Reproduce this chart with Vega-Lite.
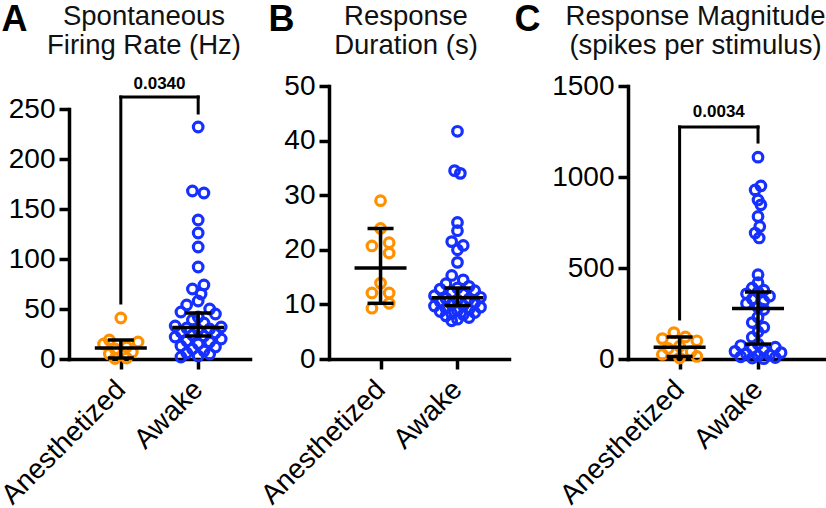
{
  "$schema": "https://vega.github.io/schema/vega-lite/v6.json",
  "background": "white",
  "padding": {"left": -4, "top": 1, "right": 0, "bottom": 0},
  "autosize": {"type": "pad"},
  "spacing": 79,
  "bounds": "flush",
  "datasets": {
    "pts": [
      {"panel": "A", "group": "Anesthetized", "value": 41, "slot": 0},
      {"panel": "A", "group": "Anesthetized", "value": 19, "slot": -2},
      {"panel": "A", "group": "Anesthetized", "value": 17, "slot": 3},
      {"panel": "A", "group": "Anesthetized", "value": 15, "slot": -3},
      {"panel": "A", "group": "Anesthetized", "value": 12, "slot": 1},
      {"panel": "A", "group": "Anesthetized", "value": 10, "slot": -1},
      {"panel": "A", "group": "Anesthetized", "value": 7, "slot": 2},
      {"panel": "A", "group": "Anesthetized", "value": 5, "slot": -2},
      {"panel": "A", "group": "Anesthetized", "value": 1, "slot": 1},
      {"panel": "A", "group": "Anesthetized", "value": 0.5, "slot": -1},
      {"panel": "A", "group": "Awake", "value": 232, "slot": 0},
      {"panel": "A", "group": "Awake", "value": 168, "slot": -1},
      {"panel": "A", "group": "Awake", "value": 166, "slot": 1},
      {"panel": "A", "group": "Awake", "value": 139, "slot": 0},
      {"panel": "A", "group": "Awake", "value": 126, "slot": 0},
      {"panel": "A", "group": "Awake", "value": 112, "slot": 0},
      {"panel": "A", "group": "Awake", "value": 92, "slot": 0},
      {"panel": "A", "group": "Awake", "value": 74, "slot": 1},
      {"panel": "A", "group": "Awake", "value": 70, "slot": -1},
      {"panel": "A", "group": "Awake", "value": 65, "slot": 0.5},
      {"panel": "A", "group": "Awake", "value": 58, "slot": 0},
      {"panel": "A", "group": "Awake", "value": 54, "slot": -2},
      {"panel": "A", "group": "Awake", "value": 50, "slot": 2},
      {"panel": "A", "group": "Awake", "value": 47, "slot": -3},
      {"panel": "A", "group": "Awake", "value": 45, "slot": 3},
      {"panel": "A", "group": "Awake", "value": 42, "slot": 0},
      {"panel": "A", "group": "Awake", "value": 39, "slot": -1},
      {"panel": "A", "group": "Awake", "value": 36, "slot": 1},
      {"panel": "A", "group": "Awake", "value": 33, "slot": -4},
      {"panel": "A", "group": "Awake", "value": 32, "slot": 4},
      {"panel": "A", "group": "Awake", "value": 31, "slot": -2},
      {"panel": "A", "group": "Awake", "value": 30, "slot": 2},
      {"panel": "A", "group": "Awake", "value": 29, "slot": 0},
      {"panel": "A", "group": "Awake", "value": 27, "slot": -3},
      {"panel": "A", "group": "Awake", "value": 26, "slot": 3},
      {"panel": "A", "group": "Awake", "value": 24, "slot": -1},
      {"panel": "A", "group": "Awake", "value": 23, "slot": 1},
      {"panel": "A", "group": "Awake", "value": 22, "slot": -4},
      {"panel": "A", "group": "Awake", "value": 20, "slot": 4},
      {"panel": "A", "group": "Awake", "value": 18, "slot": -2},
      {"panel": "A", "group": "Awake", "value": 17, "slot": 2},
      {"panel": "A", "group": "Awake", "value": 15, "slot": 0},
      {"panel": "A", "group": "Awake", "value": 13, "slot": -3},
      {"panel": "A", "group": "Awake", "value": 12, "slot": 3},
      {"panel": "A", "group": "Awake", "value": 10, "slot": -1},
      {"panel": "A", "group": "Awake", "value": 8, "slot": 1},
      {"panel": "A", "group": "Awake", "value": 6, "slot": -2},
      {"panel": "A", "group": "Awake", "value": 5, "slot": 2},
      {"panel": "A", "group": "Awake", "value": 3, "slot": 0},
      {"panel": "A", "group": "Awake", "value": 2, "slot": -3},
      {"panel": "B", "group": "Anesthetized", "value": 29.0, "slot": 0},
      {"panel": "B", "group": "Anesthetized", "value": 23.9, "slot": 0},
      {"panel": "B", "group": "Anesthetized", "value": 21.3, "slot": 1.5},
      {"panel": "B", "group": "Anesthetized", "value": 20.7, "slot": -1.5},
      {"panel": "B", "group": "Anesthetized", "value": 19.4, "slot": 1.5},
      {"panel": "B", "group": "Anesthetized", "value": 13.9, "slot": 0},
      {"panel": "B", "group": "Anesthetized", "value": 12.1, "slot": -1.5},
      {"panel": "B", "group": "Anesthetized", "value": 12.1, "slot": 1.5},
      {"panel": "B", "group": "Anesthetized", "value": 10.2, "slot": 1.5},
      {"panel": "B", "group": "Anesthetized", "value": 9.3, "slot": -1.5},
      {"panel": "B", "group": "Awake", "value": 41.7, "slot": 0},
      {"panel": "B", "group": "Awake", "value": 34.5, "slot": -0.5},
      {"panel": "B", "group": "Awake", "value": 34.0, "slot": 0.5},
      {"panel": "B", "group": "Awake", "value": 25.0, "slot": 0},
      {"panel": "B", "group": "Awake", "value": 23.5, "slot": 0},
      {"panel": "B", "group": "Awake", "value": 21.5, "slot": -1},
      {"panel": "B", "group": "Awake", "value": 20.8, "slot": 1},
      {"panel": "B", "group": "Awake", "value": 20.0, "slot": 0},
      {"panel": "B", "group": "Awake", "value": 17.7, "slot": 0},
      {"panel": "B", "group": "Awake", "value": 15.3, "slot": -1},
      {"panel": "B", "group": "Awake", "value": 14.5, "slot": 1},
      {"panel": "B", "group": "Awake", "value": 13.8, "slot": -2},
      {"panel": "B", "group": "Awake", "value": 13.3, "slot": 2},
      {"panel": "B", "group": "Awake", "value": 13.0, "slot": 0},
      {"panel": "B", "group": "Awake", "value": 12.8, "slot": -3},
      {"panel": "B", "group": "Awake", "value": 12.5, "slot": 3},
      {"panel": "B", "group": "Awake", "value": 12.2, "slot": -1},
      {"panel": "B", "group": "Awake", "value": 11.9, "slot": 1},
      {"panel": "B", "group": "Awake", "value": 11.6, "slot": -4},
      {"panel": "B", "group": "Awake", "value": 11.3, "slot": 4},
      {"panel": "B", "group": "Awake", "value": 11.1, "slot": -2},
      {"panel": "B", "group": "Awake", "value": 11.0, "slot": 2},
      {"panel": "B", "group": "Awake", "value": 10.8, "slot": 0},
      {"panel": "B", "group": "Awake", "value": 10.5, "slot": -3},
      {"panel": "B", "group": "Awake", "value": 10.3, "slot": 3},
      {"panel": "B", "group": "Awake", "value": 10.0, "slot": -1},
      {"panel": "B", "group": "Awake", "value": 9.8, "slot": 1},
      {"panel": "B", "group": "Awake", "value": 9.7, "slot": -4},
      {"panel": "B", "group": "Awake", "value": 9.5, "slot": 4},
      {"panel": "B", "group": "Awake", "value": 9.3, "slot": -2},
      {"panel": "B", "group": "Awake", "value": 9.1, "slot": 2},
      {"panel": "B", "group": "Awake", "value": 8.9, "slot": 0},
      {"panel": "B", "group": "Awake", "value": 8.7, "slot": -3},
      {"panel": "B", "group": "Awake", "value": 8.5, "slot": 3},
      {"panel": "B", "group": "Awake", "value": 8.3, "slot": -1},
      {"panel": "B", "group": "Awake", "value": 8.1, "slot": 1},
      {"panel": "B", "group": "Awake", "value": 7.9, "slot": -2},
      {"panel": "B", "group": "Awake", "value": 7.6, "slot": 2},
      {"panel": "B", "group": "Awake", "value": 7.3, "slot": 0},
      {"panel": "B", "group": "Awake", "value": 7.0, "slot": -1},
      {"panel": "C", "group": "Anesthetized", "value": 145, "slot": -1},
      {"panel": "C", "group": "Anesthetized", "value": 121, "slot": 1},
      {"panel": "C", "group": "Anesthetized", "value": 112, "slot": -3},
      {"panel": "C", "group": "Anesthetized", "value": 100, "slot": 3},
      {"panel": "C", "group": "Anesthetized", "value": 70, "slot": 0},
      {"panel": "C", "group": "Anesthetized", "value": 58, "slot": -2},
      {"panel": "C", "group": "Anesthetized", "value": 40, "slot": 2},
      {"panel": "C", "group": "Anesthetized", "value": 25, "slot": -3},
      {"panel": "C", "group": "Anesthetized", "value": 14, "slot": 3},
      {"panel": "C", "group": "Anesthetized", "value": 5, "slot": 0},
      {"panel": "C", "group": "Awake", "value": 1109, "slot": 0},
      {"panel": "C", "group": "Awake", "value": 951, "slot": 0.5},
      {"panel": "C", "group": "Awake", "value": 929, "slot": -0.5},
      {"panel": "C", "group": "Awake", "value": 874, "slot": 0},
      {"panel": "C", "group": "Awake", "value": 847, "slot": 0.5},
      {"panel": "C", "group": "Awake", "value": 783, "slot": 0},
      {"panel": "C", "group": "Awake", "value": 728, "slot": 0.3},
      {"panel": "C", "group": "Awake", "value": 692, "slot": -0.5},
      {"panel": "C", "group": "Awake", "value": 665, "slot": 0.2},
      {"panel": "C", "group": "Awake", "value": 463, "slot": 0},
      {"panel": "C", "group": "Awake", "value": 419, "slot": 0},
      {"panel": "C", "group": "Awake", "value": 390, "slot": -1},
      {"panel": "C", "group": "Awake", "value": 378, "slot": 1},
      {"panel": "C", "group": "Awake", "value": 368, "slot": 0},
      {"panel": "C", "group": "Awake", "value": 358, "slot": -2},
      {"panel": "C", "group": "Awake", "value": 345, "slot": 2},
      {"panel": "C", "group": "Awake", "value": 330, "slot": -1},
      {"panel": "C", "group": "Awake", "value": 318, "slot": 1},
      {"panel": "C", "group": "Awake", "value": 305, "slot": -2},
      {"panel": "C", "group": "Awake", "value": 284, "slot": 0},
      {"panel": "C", "group": "Awake", "value": 272, "slot": 1},
      {"panel": "C", "group": "Awake", "value": 230, "slot": 0},
      {"panel": "C", "group": "Awake", "value": 200, "slot": -1},
      {"panel": "C", "group": "Awake", "value": 175, "slot": 1},
      {"panel": "C", "group": "Awake", "value": 150, "slot": 0},
      {"panel": "C", "group": "Awake", "value": 120, "slot": -1},
      {"panel": "C", "group": "Awake", "value": 82, "slot": 0},
      {"panel": "C", "group": "Awake", "value": 74, "slot": -3},
      {"panel": "C", "group": "Awake", "value": 65, "slot": 3},
      {"panel": "C", "group": "Awake", "value": 58, "slot": -1},
      {"panel": "C", "group": "Awake", "value": 50, "slot": 1},
      {"panel": "C", "group": "Awake", "value": 42, "slot": -4},
      {"panel": "C", "group": "Awake", "value": 35, "slot": 4},
      {"panel": "C", "group": "Awake", "value": 28, "slot": -2},
      {"panel": "C", "group": "Awake", "value": 22, "slot": 2},
      {"panel": "C", "group": "Awake", "value": 18, "slot": 0},
      {"panel": "C", "group": "Awake", "value": 12, "slot": -3},
      {"panel": "C", "group": "Awake", "value": 8, "slot": 3},
      {"panel": "C", "group": "Awake", "value": 5, "slot": -1},
      {"panel": "C", "group": "Awake", "value": 2, "slot": 1}
    ],
    "stats": [
      {"panel": "A", "group": "Anesthetized", "med": 11, "lo": 1, "hi": 19},
      {"panel": "A", "group": "Awake", "med": 31.5, "lo": 23, "hi": 46},
      {"panel": "B", "group": "Anesthetized", "med": 16.65, "lo": 10.2, "hi": 23.9},
      {"panel": "B", "group": "Awake", "med": 11.2, "lo": 9.8, "hi": 13.0},
      {"panel": "C", "group": "Anesthetized", "med": 64, "lo": 14, "hi": 121},
      {"panel": "C", "group": "Awake", "med": 278, "lo": 82, "hi": 368}
    ],
    "brackets": [
      {"panel": "A", "group": "Anesthetized", "group2": "Awake", "left": 56, "right": 246, "top": 262, "texty": 270, "label": "0.0340"},
      {"panel": "C", "group": "Anesthetized", "group2": "Awake", "left": 220, "right": 1192, "top": 1275, "texty": 1330, "label": "0.0034"}
    ]
  },
  "hconcat": [
    {
      "width": 181,
      "height": 273,
      "title": {"text": ["Spontaneous", "Firing Rate (Hz)"], "anchor": "middle", "frame": "group", "dx": -15.5, "offset": -58},
      "layer": [
        {
          "data": {"name": "pts"},
          "transform": [{"filter": "datum.panel === 'A'"}],
          "mark": {"type": "point", "shape": "circle", "filled": false, "strokeWidth": 3.2, "size": 92, "opacity": 1},
          "encoding": {
            "x": {"field": "group", "type": "nominal", "scale": {"type": "point", "domain": ["Anesthetized", "Awake"], "padding": 0.67}, "axis": {"title": null, "labelAngle": -45, "labelAlign": "right", "labelBaseline": "middle", "labelPadding": 16}},
            "xOffset": {"field": "slot", "type": "quantitative", "scale": {"domain": [-4, 4], "range": [-23, 23]}},
            "y": {"field": "value", "type": "quantitative", "scale": {"domain": [0, 250], "range": [273, 23], "nice": false}, "axis": {"values": [0, 50, 100, 150, 200, 250], "title": "A", "titleAngle": 0, "titleAlign": "left", "titleBaseline": "alphabetic", "titleX": -68, "titleY": -56, "titleFontSize": 36, "titleFontWeight": "bold", "titleColor": "black", "labelFlush": false}},
            "color": {"field": "group", "type": "nominal", "scale": {"domain": ["Anesthetized", "Awake"], "range": ["#FF9000", "#1530FF"]}, "legend": null}
          }
        },
        {
          "data": {"name": "stats"},
          "transform": [{"filter": "datum.panel === 'A'"}],
          "mark": {"type": "rule", "strokeWidth": 3.5, "color": "black"},
          "encoding": {"x": {"field": "group", "type": "nominal"}, "y": {"field": "lo", "type": "quantitative"}, "y2": {"field": "hi"}}
        },
        {
          "data": {"name": "stats"},
          "transform": [{"filter": "datum.panel === 'A'"}],
          "mark": {"type": "tick", "size": 52, "thickness": 3.5, "color": "black", "opacity": 1},
          "encoding": {"x": {"field": "group", "type": "nominal"}, "y": {"field": "med", "type": "quantitative"}}
        },
        {
          "data": {"name": "stats"},
          "transform": [{"filter": "datum.panel === 'A'"}],
          "mark": {"type": "tick", "size": 26, "thickness": 3.5, "color": "black", "opacity": 1},
          "encoding": {"x": {"field": "group", "type": "nominal"}, "y": {"field": "lo", "type": "quantitative"}}
        },
        {
          "data": {"name": "stats"},
          "transform": [{"filter": "datum.panel === 'A'"}],
          "mark": {"type": "tick", "size": 26, "thickness": 3.5, "color": "black", "opacity": 1},
          "encoding": {"x": {"field": "group", "type": "nominal"}, "y": {"field": "hi", "type": "quantitative"}}
        },
        {
          "data": {"name": "brackets"},
          "transform": [{"filter": "datum.panel === 'A'"}],
          "mark": {"type": "rule", "strokeWidth": 3, "color": "black", "strokeCap": "square"},
          "encoding": {"x": {"field": "group", "type": "nominal"}, "x2": {"field": "group2"}, "y": {"field": "top", "type": "quantitative"}}
        },
        {
          "data": {"name": "brackets"},
          "transform": [{"filter": "datum.panel === 'A'"}],
          "mark": {"type": "rule", "strokeWidth": 3, "color": "black", "strokeCap": "square"},
          "encoding": {"x": {"field": "group", "type": "nominal"}, "y": {"field": "left", "type": "quantitative"}, "y2": {"field": "top"}}
        },
        {
          "data": {"name": "brackets"},
          "transform": [{"filter": "datum.panel === 'A'"}],
          "mark": {"type": "rule", "strokeWidth": 3, "color": "black", "strokeCap": "square"},
          "encoding": {"x": {"field": "group2", "type": "nominal"}, "y": {"field": "right", "type": "quantitative"}, "y2": {"field": "top"}}
        },
        {
          "data": {"name": "brackets"},
          "transform": [{"filter": "datum.panel === 'A'"}],
          "mark": {"type": "text", "dx": 38.7, "fontSize": 17, "fontWeight": "bold", "font": "Liberation Sans", "baseline": "alphabetic", "align": "center", "color": "black"},
          "encoding": {"x": {"field": "group", "type": "nominal"}, "y": {"field": "texty", "type": "quantitative"}, "text": {"field": "label"}}
        }
      ]
    },
    {
      "width": 220,
      "height": 273,
      "title": {"text": ["Response", "Duration (s)"], "anchor": "middle", "frame": "group", "dx": -33, "offset": -58},
      "layer": [
        {
          "data": {"name": "pts"},
          "transform": [{"filter": "datum.panel === 'B'"}],
          "mark": {"type": "point", "shape": "circle", "filled": false, "strokeWidth": 3.2, "size": 92, "opacity": 1},
          "encoding": {
            "x": {"field": "group", "type": "nominal", "scale": {"type": "point", "domain": ["Anesthetized", "Awake"], "padding": 0.67, "range": [0, 180]}, "axis": {"title": null, "labelAngle": -45, "labelAlign": "right", "labelBaseline": "middle", "labelPadding": 16}},
            "xOffset": {"field": "slot", "type": "quantitative", "scale": {"domain": [-4, 4], "range": [-23, 23]}},
            "y": {"field": "value", "type": "quantitative", "scale": {"domain": [0, 50], "nice": false}, "axis": {"values": [0, 10, 20, 30, 40, 50], "title": "B", "titleAngle": 0, "titleAlign": "left", "titleBaseline": "alphabetic", "titleX": -61, "titleY": -56, "titleFontSize": 36, "titleFontWeight": "bold", "titleColor": "black", "labelFlush": false}},
            "color": {"field": "group", "type": "nominal", "scale": {"domain": ["Anesthetized", "Awake"], "range": ["#FF9000", "#1530FF"]}, "legend": null}
          }
        },
        {
          "data": {"name": "stats"},
          "transform": [{"filter": "datum.panel === 'B'"}],
          "mark": {"type": "rule", "strokeWidth": 3.5, "color": "black"},
          "encoding": {"x": {"field": "group", "type": "nominal"}, "y": {"field": "lo", "type": "quantitative"}, "y2": {"field": "hi"}}
        },
        {
          "data": {"name": "stats"},
          "transform": [{"filter": "datum.panel === 'B'"}],
          "mark": {"type": "tick", "size": 52, "thickness": 3.5, "color": "black", "opacity": 1},
          "encoding": {"x": {"field": "group", "type": "nominal"}, "y": {"field": "med", "type": "quantitative"}}
        },
        {
          "data": {"name": "stats"},
          "transform": [{"filter": "datum.panel === 'B'"}],
          "mark": {"type": "tick", "size": 26, "thickness": 3.5, "color": "black", "opacity": 1},
          "encoding": {"x": {"field": "group", "type": "nominal"}, "y": {"field": "lo", "type": "quantitative"}}
        },
        {
          "data": {"name": "stats"},
          "transform": [{"filter": "datum.panel === 'B'"}],
          "mark": {"type": "tick", "size": 26, "thickness": 3.5, "color": "black", "opacity": 1},
          "encoding": {"x": {"field": "group", "type": "nominal"}, "y": {"field": "hi", "type": "quantitative"}}
        }
      ]
    },
    {
      "width": 199,
      "height": 273,
      "title": {"text": ["Response Magnitude", "(spikes per stimulus)"], "anchor": "middle", "frame": "group", "dx": -32, "offset": -58},
      "layer": [
        {
          "data": {"name": "pts"},
          "transform": [{"filter": "datum.panel === 'C'"}],
          "mark": {"type": "point", "shape": "circle", "filled": false, "strokeWidth": 3.2, "size": 92, "opacity": 1},
          "encoding": {
            "x": {"field": "group", "type": "nominal", "scale": {"type": "point", "domain": ["Anesthetized", "Awake"], "padding": 0.769, "align": 0.428}, "axis": {"title": null, "labelAngle": -45, "labelAlign": "right", "labelBaseline": "middle", "labelPadding": 16}},
            "xOffset": {"field": "slot", "type": "quantitative", "scale": {"domain": [-4, 4], "range": [-23, 23]}},
            "y": {"field": "value", "type": "quantitative", "scale": {"domain": [0, 1500], "nice": false}, "axis": {"values": [0, 500, 1000, 1500], "format": "d", "title": "C", "titleAngle": 0, "titleAlign": "left", "titleBaseline": "alphabetic", "titleX": -114, "titleY": -56, "titleFontSize": 36, "titleFontWeight": "bold", "titleColor": "black", "labelFlush": false}},
            "color": {"field": "group", "type": "nominal", "scale": {"domain": ["Anesthetized", "Awake"], "range": ["#FF9000", "#1530FF"]}, "legend": null}
          }
        },
        {
          "data": {"name": "stats"},
          "transform": [{"filter": "datum.panel === 'C'"}],
          "mark": {"type": "rule", "strokeWidth": 3.5, "color": "black"},
          "encoding": {"x": {"field": "group", "type": "nominal"}, "y": {"field": "lo", "type": "quantitative"}, "y2": {"field": "hi"}}
        },
        {
          "data": {"name": "stats"},
          "transform": [{"filter": "datum.panel === 'C'"}],
          "mark": {"type": "tick", "size": 52, "thickness": 3.5, "color": "black", "opacity": 1},
          "encoding": {"x": {"field": "group", "type": "nominal"}, "y": {"field": "med", "type": "quantitative"}}
        },
        {
          "data": {"name": "stats"},
          "transform": [{"filter": "datum.panel === 'C'"}],
          "mark": {"type": "tick", "size": 26, "thickness": 3.5, "color": "black", "opacity": 1},
          "encoding": {"x": {"field": "group", "type": "nominal"}, "y": {"field": "lo", "type": "quantitative"}}
        },
        {
          "data": {"name": "stats"},
          "transform": [{"filter": "datum.panel === 'C'"}],
          "mark": {"type": "tick", "size": 26, "thickness": 3.5, "color": "black", "opacity": 1},
          "encoding": {"x": {"field": "group", "type": "nominal"}, "y": {"field": "hi", "type": "quantitative"}}
        },
        {
          "data": {"name": "brackets"},
          "transform": [{"filter": "datum.panel === 'C'"}],
          "mark": {"type": "rule", "strokeWidth": 3, "color": "black", "strokeCap": "square"},
          "encoding": {"x": {"field": "group", "type": "nominal"}, "x2": {"field": "group2"}, "y": {"field": "top", "type": "quantitative"}}
        },
        {
          "data": {"name": "brackets"},
          "transform": [{"filter": "datum.panel === 'C'"}],
          "mark": {"type": "rule", "strokeWidth": 3, "color": "black", "strokeCap": "square"},
          "encoding": {"x": {"field": "group", "type": "nominal"}, "y": {"field": "left", "type": "quantitative"}, "y2": {"field": "top"}}
        },
        {
          "data": {"name": "brackets"},
          "transform": [{"filter": "datum.panel === 'C'"}],
          "mark": {"type": "rule", "strokeWidth": 3, "color": "black", "strokeCap": "square"},
          "encoding": {"x": {"field": "group2", "type": "nominal"}, "y": {"field": "right", "type": "quantitative"}, "y2": {"field": "top"}}
        },
        {
          "data": {"name": "brackets"},
          "transform": [{"filter": "datum.panel === 'C'"}],
          "mark": {"type": "text", "dx": 39.2, "fontSize": 17, "fontWeight": "bold", "font": "Liberation Sans", "baseline": "alphabetic", "align": "center", "color": "black"},
          "encoding": {"x": {"field": "group", "type": "nominal"}, "y": {"field": "texty", "type": "quantitative"}, "text": {"field": "label"}}
        }
      ]
    }
  ],
  "config": {
    "view": {"stroke": null},
    "font": "Liberation Sans",
    "axis": {"domainColor": "black", "domainWidth": 3.5, "domainCap": "square", "tickColor": "black", "tickWidth": 3.5, "tickSize": 10, "labelFont": "Liberation Sans", "labelFontSize": 28, "labelColor": "black", "labelPadding": 4, "grid": false, "labelOverlap": false},
    "title": {"font": "Liberation Sans", "fontSize": 27.5, "fontWeight": "normal", "color": "#111111", "lineHeight": 29}
  }
}
